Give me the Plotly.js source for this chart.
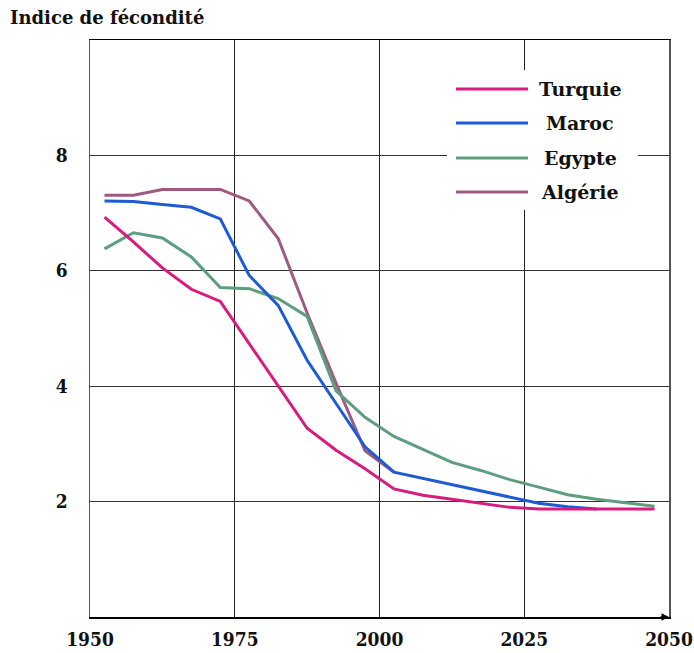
<!DOCTYPE html>
<html>
<head>
<meta charset="utf-8">
<script src="https://cdn.plot.ly/plotly-3.0.1.min.js"></script>
<style>html,body{margin:0;padding:0;background:#fff;}#chart{width:694px;height:653px;}</style>
</head>
<body>
<div id="chart"></div>
<script>
const years = [1952.5,1957.5,1962.5,1967.5,1972.5,1977.5,1982.5,1987.5,1992.5,1997.5,2002.5,2007.5,2012.5,2017.5,2022.5,2027.5,2032.5,2037.5,2042.5,2047.5];
const turquie = [6.93,6.50,6.05,5.68,5.47,4.73,4.00,3.27,2.89,2.57,2.22,2.11,2.04,1.97,1.90,1.87,1.87,1.87,1.87,1.87];
const maroc   = [7.21,7.20,7.15,7.10,6.90,5.92,5.40,4.45,3.70,2.95,2.51,2.40,2.30,2.19,2.08,1.97,1.91,1.87,null,null];
const egypte  = [6.38,6.66,6.57,6.24,5.71,5.69,5.52,5.21,3.92,3.46,3.13,2.90,2.68,2.54,2.38,2.25,2.12,2.04,1.98,1.92];
const algerie = [7.31,7.31,7.41,7.41,7.41,7.21,6.56,5.27,4.05,2.88,2.51,null,null,null,null,null,null,null,null,null];

const seriesNames  = ['Turquie','Maroc','Egypte','Algérie'];
const seriesValues = [turquie, maroc, egypte, algerie];
const seriesColors = ['#d81b7f','#1c5bd4','#5c9e7e','#9e5a80'];
const drawOrder = [3, 2, 1, 0]; // Algérie bottom ... Turquie top

const xTicks = [1950,1975,2000,2025,2050];
const yTicks = [2,4,6,8];

const L = 90, R = 25, T = 40, B = 36, W = 694, H = 653;
const pw = W - L - R, ph = H - T - B;
const px = v => (v - L) / pw;
const py = v => (H - B - v) / ph;

const traces = drawOrder.map(i => ({
  x: years, y: seriesValues[i], name: seriesNames[i], type: 'scatter', mode: 'lines',
  line: {color: seriesColors[i], width: 3}, showlegend: false, hoverinfo: 'skip'
}));

const serifBold = {family: 'DejaVu Serif, Liberation Serif, serif', size: 19, color: '#111', weight: 'bold'};
const tickFont = {family: 'DejaVu Serif Condensed, Liberation Serif, serif', size: 19, color: '#111', weight: 'bold'};

const shapes = [{
  type: 'rect', xref: 'paper', yref: 'paper', layer: 'above',
  x0: px(447), x1: px(638), y0: py(210), y1: py(70),
  fillcolor: '#fff', line: {width: 0}
}];
const annotations = [];
const rowY = [89, 123, 158, 192];
seriesNames.forEach((n, i) => {
  shapes.push({type: 'line', xref: 'paper', yref: 'paper', layer: 'above',
    x0: px(456), x1: px(528), y0: py(rowY[i]), y1: py(rowY[i]),
    line: {color: seriesColors[i], width: 3}});
  annotations.push({xref: 'paper', yref: 'paper', x: px(580), y: py(rowY[i]),
    xanchor: 'center', yanchor: 'middle', text: n, showarrow: false, font: serifBold});
});
annotations.push({x: 2050, y: 0, xref: 'x', yref: 'y', ax: -10, ay: 0, axref: 'pixel', ayref: 'pixel',
  text: '', showarrow: true, arrowhead: 2, arrowsize: 1, arrowwidth: 1.5, arrowcolor: '#000'});

const layout = {
  width: W, height: H,
  margin: {l: L, r: R, t: T, b: B, pad: 0},
  paper_bgcolor: '#fff', plot_bgcolor: '#fff',
  title: {text: 'Indice de fécondité', x: 10 / W, xanchor: 'left', xref: 'container',
          y: 1 - 18 / H, yanchor: 'middle', yref: 'container', font: {family: 'DejaVu Serif, serif', size: 18, color: '#111', weight: 'bold'}},
  xaxis: {range: [1950, 2050], tickvals: xTicks, ticktext: xTicks.map(String),
          showgrid: true, gridcolor: '#222', gridwidth: 1, zeroline: false,
          showline: true, linecolor: '#000', linewidth: 1.5, mirror: true,
          ticks: 'outside', ticklen: 5, tickcolor: 'rgba(0,0,0,0)', tickfont: tickFont, fixedrange: true},
  yaxis: {range: [0, 10], tickvals: yTicks, ticktext: yTicks.map(String),
          showgrid: true, gridcolor: '#333', gridwidth: 1, zeroline: false,
          showline: true, linecolor: '#555', linewidth: 1.5, mirror: true,
          ticks: 'outside', ticklen: 17, tickcolor: 'rgba(0,0,0,0)', tickfont: tickFont, fixedrange: true},
  showlegend: false,
  shapes: shapes,
  annotations: annotations
};

Plotly.newPlot('chart', traces, layout, {displayModeBar: false, staticPlot: true});
</script>
</body>
</html>
